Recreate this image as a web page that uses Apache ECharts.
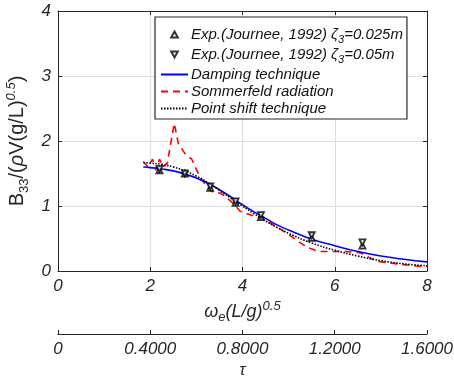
<!DOCTYPE html>
<html>
<head>
<meta charset="utf-8">
<script src="https://cdn.jsdelivr.net/npm/echarts@6/dist/echarts.min.js"></script>
<style>html,body{margin:0;padding:0;background:#fff;}#c{width:454px;height:378px;}</style>
</head>
<body>
<div id="c"></div>
<script>
// ---- data ----
var expX = [2.2, 2.75, 3.3, 3.85, 4.4, 5.5, 6.6];
var exp025 = [1.55, 1.50, 1.28, 1.05, 0.83, 0.51, 0.39];
var exp05 = [1.57, 1.50, 1.30, 1.07, 0.86, 0.55, 0.44];

var dampX = [1.85, 2.0, 2.25, 2.5, 2.75, 3.0, 3.25, 3.5, 3.75, 4.0, 4.25, 4.5, 4.75, 5.0, 5.5, 6.0, 6.5, 7.0, 7.5, 8.0];
var dampY = [1.60, 1.59, 1.57, 1.54, 1.49, 1.43, 1.35, 1.25, 1.14, 1.02, 0.91, 0.81, 0.71, 0.63, 0.49, 0.39, 0.30, 0.23, 0.18, 0.14];

var shiftX = [1.85, 2.0, 2.25, 2.5, 2.75, 3.0, 3.25, 3.5, 3.75, 4.0, 4.25, 4.5, 4.75, 5.0, 5.5, 6.0, 6.5, 7.0, 7.5, 8.0];
var shiftY = [1.67, 1.66, 1.64, 1.60, 1.54, 1.46, 1.36, 1.24, 1.12, 1.00, 0.88, 0.77, 0.67, 0.58, 0.43, 0.32, 0.23, 0.16, 0.11, 0.08];

var sommX = [1.85, 1.95, 2.05, 2.12, 2.2, 2.28, 2.37, 2.52, 2.61, 2.75, 2.83, 2.9, 3.0, 3.12, 3.3, 3.4, 3.51, 3.6, 3.77, 3.95, 4.1, 4.27, 4.5, 4.74, 4.96, 5.2, 5.39, 5.65, 6.0, 6.23, 6.55, 6.91, 7.35, 7.85, 8.0];
var sommY = [1.68, 1.60, 1.72, 1.55, 1.72, 1.60, 1.66, 2.27, 1.96, 1.81, 1.76, 1.72, 1.56, 1.40, 1.24, 1.20, 1.20, 1.16, 1.06, 0.92, 0.88, 0.84, 0.78, 0.68, 0.58, 0.46, 0.37, 0.30, 0.30, 0.30, 0.28, 0.15, 0.11, 0.07, 0.07];

var xTicks = [0, 2, 4, 6, 8];
var yTicks = [0, 1, 2, 3, 4];
var tauTicks = [0, 0.4, 0.8, 1.2, 1.6];
var tauLabels = ['0', '0.4000', '0.8000', '1.2000', '1.6000'];

var names = {
  e1: 'Exp.(Journee, 1992) ζ3=0.025m',
  e2: 'Exp.(Journee, 1992) ζ3=0.05m',
  d: 'Damping technique',
  s: 'Sommerfeld radiation',
  p: 'Point shift technique'
};

function zip(a, b) { return a.map(function (v, i) { return [v, b[i]]; }); }

var FONT = 'Liberation Sans';
var AX = '#262626';
var UP = 'path://M5,0 L10,9 L0,9 Z';
var DOWN = 'path://M0,0 L10,0 L5,9 Z';

var chart = echarts.init(document.getElementById('c'), null, {renderer: 'canvas'});

var tickLabel = {fontFamily: FONT, fontStyle: 'italic', fontSize: 17, color: AX};

chart.setOption({
  animation: false,
  backgroundColor: '#fff',
  grid: {left: 58, right: 27, top: 11, bottom: 107, containLabel: false, outerBoundsMode: 'none'},
  legend: {
    orient: 'vertical',
    left: 155, top: 17,
    padding: [10, 4, 3, 5],
    itemGap: 2,
    itemWidth: 27, itemHeight: 6,
    backgroundColor: '#fff',
    borderColor: AX, borderWidth: 1.2,
    align: 'left',
    data: [
      {name: names.e1, icon: UP},
      {name: names.e2, icon: DOWN},
      {name: names.d, itemStyle: {opacity: 0}},
      {name: names.s, itemStyle: {opacity: 0}},
      {name: names.p, itemStyle: {opacity: 0}}
    ],
    formatter: function (n) {
      if (n === names.e1) return '{n|Exp.(Journee, 1992) }{z|ζ}{s|3}{n|=0.025m}';
      if (n === names.e2) return '{n|Exp.(Journee, 1992) }{z|ζ}{s|3}{n|=0.05m}';
      return '{m|' + n + '}';
    },
    textStyle: {
      fontFamily: FONT, fontStyle: 'italic', fontSize: 15, color: '#111',
      padding: [0, 0, 0, -2],
      rich: {
        n: {fontFamily: FONT, fontStyle: 'italic', fontSize: 15, color: '#111', lineHeight: 21, verticalAlign: 'middle'},
        z: {fontFamily: FONT, fontStyle: 'italic', fontSize: 15, color: '#111', lineHeight: 21, verticalAlign: 'middle'},
        s: {fontFamily: FONT, fontStyle: 'italic', fontSize: 11, color: '#111', lineHeight: 21, verticalAlign: 'bottom'},
        m: {fontFamily: FONT, fontStyle: 'italic', fontSize: 15, color: '#111', lineHeight: 15}
      }
    }
  },
  xAxis: [
    {
      type: 'value', position: 'bottom', min: 0, max: 8, interval: 2,
      axisLine: {show: true, onZero: false, lineStyle: {color: AX, width: 1}},
      axisTick: {show: true, inside: true, length: 4, lineStyle: {color: AX}},
      axisLabel: Object.assign({margin: 7}, tickLabel),
      splitLine: {show: true, lineStyle: {color: '#dedede', width: 1}},
      name: '{w|ω}{e|e}{n|(L/g)}{p|0.5}',
      nameLocation: 'middle', nameGap: 26,
      nameTextStyle: {
        rich: {
          w: {fontFamily: FONT, fontStyle: 'italic', fontSize: 18, color: AX, lineHeight: 24, verticalAlign: 'middle'},
          e: {fontFamily: FONT, fontStyle: 'italic', fontSize: 13, color: AX, lineHeight: 24, verticalAlign: 'bottom'},
          n: {fontFamily: FONT, fontStyle: 'italic', fontSize: 18, color: AX, lineHeight: 24, verticalAlign: 'middle'},
          p: {fontFamily: FONT, fontStyle: 'italic', fontSize: 13, color: AX, lineHeight: 24, verticalAlign: 'top'}
        }
      }
    },
    {
      type: 'value', position: 'top', min: 0, max: 8, interval: 2,
      axisLine: {show: true, onZero: false, lineStyle: {color: AX, width: 1}},
      axisTick: {show: true, inside: true, length: 4, lineStyle: {color: AX}},
      axisLabel: {show: false},
      splitLine: {show: false}
    },
    {
      type: 'value', position: 'bottom', offset: 63, min: 0, max: 1.6, interval: 0.4,
      axisLine: {show: true, onZero: false, lineStyle: {color: AX, width: 1.2}},
      axisTick: {show: true, inside: true, length: 4, lineStyle: {color: AX}},
      axisLabel: Object.assign({
        margin: 7,
        formatter: function (v) {
          var i = tauTicks.findIndex(function (t) { return Math.abs(t - v) < 1e-6; });
          return i >= 0 ? tauLabels[i] : '';
        }
      }, tickLabel),
      splitLine: {show: false},
      name: 'τ', nameLocation: 'middle', nameGap: 24,
      nameTextStyle: {fontFamily: FONT, fontStyle: 'italic', fontSize: 16, color: AX}
    }
  ],
  yAxis: [
    {
      type: 'value', position: 'left', min: 0, max: 4, interval: 1,
      axisLine: {show: true, onZero: false, lineStyle: {color: AX, width: 1}},
      axisTick: {show: true, inside: true, length: 4, lineStyle: {color: AX}},
      axisLabel: Object.assign({margin: 7}, tickLabel),
      splitLine: {show: true, lineStyle: {color: '#dedede', width: 1}},
      name: '{n|B}{s|33}{n|/(}{r|ρ}{n|V(g/L)}{p|0.5}{n|)}',
      nameLocation: 'middle', nameGap: 24, nameRotate: 90,
      nameTextStyle: {
        rich: {
          n: {fontFamily: FONT, fontSize: 20, color: AX, lineHeight: 26, verticalAlign: 'middle'},
          r: {fontFamily: FONT, fontStyle: 'italic', fontSize: 20, color: AX, lineHeight: 26, verticalAlign: 'middle'},
          s: {fontFamily: FONT, fontSize: 13, color: AX, lineHeight: 26, verticalAlign: 'bottom'},
          p: {fontFamily: FONT, fontStyle: 'italic', fontSize: 13, color: AX, lineHeight: 26, verticalAlign: 'top'}
        }
      }
    },
    {
      type: 'value', position: 'right', min: 0, max: 4, interval: 1,
      axisLine: {show: true, onZero: false, lineStyle: {color: AX, width: 1}},
      axisTick: {show: true, inside: true, length: 4, lineStyle: {color: AX}},
      axisLabel: {show: false},
      splitLine: {show: false}
    }
  ],
  series: [
    {
      name: names.d, type: 'line', xAxisIndex: 0, yAxisIndex: 0,
      data: zip(dampX, dampY), smooth: true, symbol: 'none', showSymbol: false,
      lineStyle: {color: '#0000ff', width: 1.6}, itemStyle: {color: '#0000ff'}, z: 3
    },
    {
      name: names.s, type: 'line', xAxisIndex: 0, yAxisIndex: 0,
      data: zip(sommX, sommY), symbol: 'none', showSymbol: false,
      lineStyle: {color: '#ff0000', width: 1.6, type: [7, 5]}, itemStyle: {color: '#ff0000'}, z: 2
    },
    {
      name: names.p, type: 'line', xAxisIndex: 0, yAxisIndex: 0,
      data: zip(shiftX, shiftY), smooth: true, symbol: 'none', showSymbol: false,
      lineStyle: {color: '#000', width: 1.6, type: [1.5, 1.5]}, itemStyle: {color: '#000'}, z: 4
    },
    {
      name: names.e1, type: 'scatter', xAxisIndex: 0, yAxisIndex: 0,
      data: zip(expX, exp025), symbol: UP, symbolSize: 6,
      itemStyle: {color: '#fff', borderColor: '#000', borderWidth: 1.8}, z: 5
    },
    {
      name: names.e2, type: 'scatter', xAxisIndex: 0, yAxisIndex: 0,
      data: zip(expX, exp05), symbol: DOWN, symbolSize: 6,
      itemStyle: {color: '#fff', borderColor: '#000', borderWidth: 1.8}, z: 5
    }
  ]
});
</script>
</body>
</html>
